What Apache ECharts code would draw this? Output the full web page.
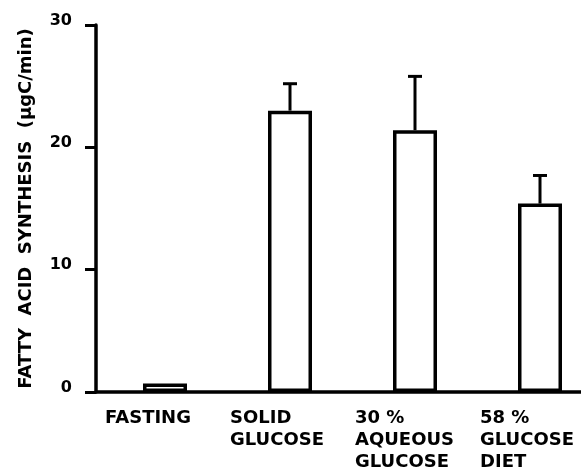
<!DOCTYPE html>
<html>
<head>
<meta charset="utf-8">
<script src="https://cdn.jsdelivr.net/npm/echarts@6/dist/echarts.min.js"></script>
<style>
html,body{margin:0;padding:0;background:#fff;}
#chart{width:581px;height:471px;}
</style>
</head>
<body>
<div id="chart"></div>
<script>
// ---- data ----
var categories = ['FASTING', 'SOLID\nGLUCOSE', '30 %\nAQUEOUS\nGLUCOSE', '58 %\nGLUCOSE\nDIET'];
var meanValues = [0.7, 23.0, 21.4, 15.4];
var errorTops  = [null, 25.2, 25.8, 17.7];
var yTicks     = [0, 10, 20, 30];
var yAxisTitle = 'FATTY  ACID  SYNTHESIS  (μgC/min)';

var FONT = 'DejaVu Sans';

var barData = meanValues.map(function (v, i) { return [i, v]; });
var errData = [];
errorTops.forEach(function (t, i) { if (t !== null) errData.push([i, meanValues[i], t]); });

var chart = echarts.init(document.getElementById('chart'), null, {renderer: 'canvas'});
chart.setOption({
  backgroundColor: '#ffffff',
  animation: false,
  grid: {left: 96, right: 0, top: 25, bottom: 79, containLabel: false},
  xAxis: {
    type: 'value',
    min: -0.552,
    max: 3.328,
    axisLine: {show: true, onZero: true, lineStyle: {color: '#000', width: 3.5}},
    axisTick: {show: false},
    axisLabel: {show: false},
    splitLine: {show: false}
  },
  yAxis: {
    type: 'value',
    min: yTicks[0],
    max: yTicks[yTicks.length - 1],
    interval: 10,
    name: yAxisTitle,
    nameLocation: 'middle',
    nameRotate: 90,
    nameGap: 61,
    nameTextStyle: {fontFamily: FONT, fontWeight: 'bold', fontSize: 18, color: '#000'},
    axisLine: {show: true, onZero: false, lineStyle: {color: '#000', width: 3.5}},
    axisTick: {show: true, inside: false, length: 11, lineStyle: {color: '#000', width: 3}},
    axisLabel: {
      margin: 24, fontFamily: FONT, fontWeight: 'bold', fontSize: 16, color: '#000',
      verticalAlign: 'bottom', lineHeight: 9
    },
    splitLine: {show: false}
  },
  series: [
    {
      type: 'bar',
      data: barData,
      barWidth: 44,
      itemStyle: {color: '#fff', borderColor: '#000', borderWidth: 3.5},
      label: {
        show: true,
        position: 'bottom',
        distance: 15,
        align: 'left',
        offset: [-60, 0],
        formatter: function (p) { return categories[p.dataIndex]; },
        fontFamily: FONT, fontWeight: 'bold', fontSize: 18, lineHeight: 22, color: '#000'
      },
      z: 2
    },
    {
      type: 'custom',
      data: errData,
      z: 3,
      renderItem: function (params, api) {
        var base = api.coord([api.value(0), api.value(1)]);
        var top = api.coord([api.value(0), api.value(2)]);
        var half = 7;
        return {
          type: 'group',
          children: [
            {type: 'line', shape: {x1: base[0], y1: base[1], x2: top[0], y2: top[1]},
             style: {stroke: '#000', lineWidth: 3}},
            {type: 'line', shape: {x1: top[0] - half, y1: top[1], x2: top[0] + half, y2: top[1]},
             style: {stroke: '#000', lineWidth: 3}}
          ]
        };
      }
    }
  ]
});
</script>
</body>
</html>
